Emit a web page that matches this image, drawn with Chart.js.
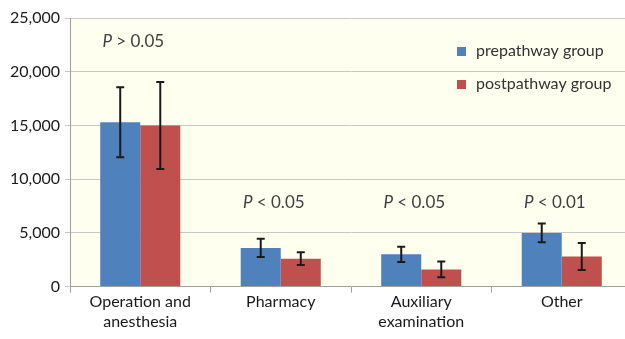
<!DOCTYPE html>
<html>
<head>
<meta charset="utf-8">
<script src="https://cdn.jsdelivr.net/npm/chart.js@4.4.1/dist/chart.umd.min.js"></script>
<style>
html,body{margin:0;padding:0;background:#fff;overflow:hidden;}
#wrap{width:632px;height:339px;}
</style>
</head>
<body>
<div id="wrap"><canvas id="c" width="632" height="339"></canvas></div>
<script>
const categories = [["Operation and","anesthesia"], "Pharmacy", ["Auxiliary","examination"], "Other"];
const prepathway = [15300, 3600, 3000, 5000];
const prepathwayErr = [3250, 850, 720, 880];
const postpathway = [15000, 2600, 1600, 2800];
const postpathwayErr = [4050, 590, 740, 1250];
const pLabels = [["P", " > 0.05"], ["P", " < 0.05"], ["P", " < 0.05"], ["P", " < 0.01"]];
const pLabelY = [22800, 7800, 7800, 7800];
const yTicks = [0, 5000, 10000, 15000, 20000, 25000];

const FONT = "Lato, 'Open Sans', sans-serif";

const bgPlugin = {
  id: 'bg',
  beforeDraw(chart) {
    const {ctx, chartArea: a} = chart;
    ctx.save();
    ctx.fillStyle = '#FFFFF0';
    ctx.fillRect(a.left, a.top, a.right - a.left, a.bottom - a.top);
    ctx.restore();
  }
};

const errPlugin = {
  id: 'err',
  afterDatasetsDraw(chart) {
    const ctx = chart.ctx;
    const y = chart.scales.y;
    const errs = [prepathwayErr, postpathwayErr];
    ctx.save();
    ctx.strokeStyle = '#1a1a1a';
    ctx.lineWidth = 2;
    chart.data.datasets.forEach((ds, di) => {
      const meta = chart.getDatasetMeta(di);
      meta.data.forEach((bar, i) => {
        const v = ds.data[i], e = errs[di][i];
        const yt = y.getPixelForValue(v + e), yb = y.getPixelForValue(v - e);
        const x = bar.x;
        ctx.beginPath();
        ctx.moveTo(x, yt); ctx.lineTo(x, yb);
        ctx.moveTo(x - 4, yt); ctx.lineTo(x + 4, yt);
        ctx.moveTo(x - 4, yb); ctx.lineTo(x + 4, yb);
        ctx.stroke();
      });
    });
    // P labels
    const xs = chart.scales.x;
    ctx.fillStyle = '#404040';
    ctx.textBaseline = 'middle';
    pLabels.forEach((lab, i) => {
      const cx = xs.getPixelForValue(i) - 7;
      const py = y.getPixelForValue(pLabelY[i]);
      ctx.font = "italic 17px " + FONT;
      const w1 = ctx.measureText(lab[0]).width;
      ctx.font = "17px " + FONT;
      const w2 = ctx.measureText(lab[1]).width;
      let x0 = cx - (w1 + w2) / 2;
      ctx.font = "italic 17px " + FONT;
      ctx.textAlign = 'left';
      ctx.fillText(lab[0], x0, py);
      ctx.font = "17px " + FONT;
      ctx.fillText(lab[1], x0 + w1, py);
    });
    // legend
    const lx = 461, ly = [51, 84];
    chart.data.datasets.forEach((ds, di) => {
      ctx.fillStyle = ds.backgroundColor;
      ctx.fillRect(lx - 4, ly[di] - 4, 9, 9);
      ctx.fillStyle = '#333';
      ctx.font = "16px " + FONT;
      ctx.textAlign = 'left';
      ctx.fillText(ds.label, lx + 15, ly[di]);
    });
    ctx.restore();
  }
};

new Chart(document.getElementById('c'), {
  type: 'bar',
  data: {
    labels: categories,
    datasets: [
      {label: 'prepathway group', data: prepathway, backgroundColor: '#4F81BD'},
      {label: 'postpathway group', data: postpathway, backgroundColor: '#C0504D'}
    ]
  },
  options: {
    responsive: false,
    animation: false,
    devicePixelRatio: 1,
    layout: {padding: {top: 18, right: 0, bottom: 8, left: 0}},
    datasets: {bar: {categoryPercentage: 0.57, barPercentage: 1.0}},
    plugins: {legend: {display: false}, tooltip: {enabled: false}},
    scales: {
      x: {
        grid: {display: true, drawOnChartArea: false, offset: true, tickLength: 6, color: '#a0a0a0'},
        border: {color: '#a0a0a0'},
        ticks: {color: '#1a1a1a', font: {family: FONT, size: 16}, padding: 0, maxRotation: 0}
      },
      y: {
        min: 0, max: 25000,
        afterBuildTicks(scale) { scale.ticks = yTicks.map(v => ({value: v})); },
        afterFit(scale) { scale.width = 70; },
        grid: {color: '#c8c8c8', tickLength: 5},
        border: {color: '#a0a0a0'},
        ticks: {color: '#1a1a1a', font: {family: FONT, size: 16}, padding: 5,
          callback: v => v.toLocaleString('en-US')}
      }
    }
  },
  plugins: [bgPlugin, errPlugin]
});
</script>
</body>
</html>
